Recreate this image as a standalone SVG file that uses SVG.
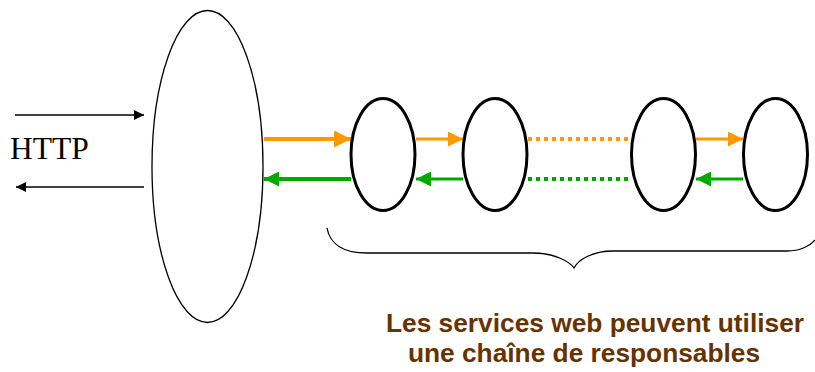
<svg xmlns="http://www.w3.org/2000/svg" width="815" height="372" viewBox="0 0 815 372">
  <style>
    .node { fill: #ffffff; stroke: #000000; }
    .server { stroke-width: 1.3; }
    .svc { stroke-width: 3; }
    .http { stroke: #000000; stroke-width: 1.3; fill: none; }
    .req { stroke: #ff9900; fill: none; }
    .resp { stroke: #00a800; fill: none; }
    .dots { stroke-width: 4; stroke-dasharray: 4 4; }
    .label { font-family: "Liberation Sans", Arial, sans-serif; font-weight: bold; font-size: 26.3px; fill: #663300; }
  </style>
  <defs>
    <marker id="arrBlack" viewBox="0 0 10 10" refX="10" refY="5" markerWidth="11" markerHeight="10" markerUnits="userSpaceOnUse" orient="auto">
      <path d="M0,0 L10,5 L0,10 z" fill="#000000"/>
    </marker>
    <marker id="arrOrange" viewBox="0 0 10 10" refX="10" refY="5" markerWidth="16" markerHeight="15" markerUnits="userSpaceOnUse" orient="auto">
      <path d="M0,0 L10,5 L0,10 z" fill="#ff9900"/>
    </marker>
    <marker id="arrOrangeBig" viewBox="0 0 10 10" refX="10" refY="5" markerWidth="19" markerHeight="17" markerUnits="userSpaceOnUse" orient="auto">
      <path d="M0,0 L10,5 L0,10 z" fill="#ff9900"/>
    </marker>
    <marker id="arrGreen" viewBox="0 0 10 10" refX="10" refY="5" markerWidth="16" markerHeight="15" markerUnits="userSpaceOnUse" orient="auto">
      <path d="M0,0 L10,5 L0,10 z" fill="#00a800"/>
    </marker>
  </defs>

  <g id="connectors">
    <!-- HTTP request / response -->
    <line class="http" x1="15" y1="115" x2="144" y2="115" marker-end="url(#arrBlack)"/>
    <line class="http" x1="144" y1="187" x2="16" y2="187" marker-end="url(#arrBlack)"/>
    <!-- requests along the chain -->
    <line class="req" stroke-width="4" x1="264" y1="139" x2="351" y2="139" marker-end="url(#arrOrangeBig)"/>
    <line class="req" stroke-width="3" x1="416" y1="139" x2="463" y2="139" marker-end="url(#arrOrange)"/>
    <line class="req dots" x1="528" y1="139" x2="630" y2="139"/>
    <line class="req" stroke-width="3" x1="696" y1="139" x2="743" y2="139" marker-end="url(#arrOrange)"/>
    <!-- responses back along the chain -->
    <line class="resp" stroke-width="4" x1="351" y1="179" x2="264" y2="179" marker-end="url(#arrGreen)"/>
    <line class="resp" stroke-width="3" x1="463" y1="179" x2="416" y2="179" marker-end="url(#arrGreen)"/>
    <line class="resp dots" x1="528" y1="179" x2="630" y2="179"/>
    <line class="resp" stroke-width="3" x1="743" y1="179" x2="696" y2="179" marker-end="url(#arrGreen)"/>
  </g>

  <text x="10" y="159" font-family="'Liberation Serif', 'Times New Roman', serif" font-size="31.5" fill="#000000">HTTP</text>

  <g id="server">
    <ellipse class="node server" cx="207.5" cy="166.5" rx="55.5" ry="156"/>
  </g>
  <g id="service1">
    <ellipse class="node svc" cx="383" cy="154.5" rx="32" ry="56"/>
  </g>
  <g id="service2">
    <ellipse class="node svc" cx="495" cy="154.5" rx="32" ry="56"/>
  </g>
  <g id="service3">
    <ellipse class="node svc" cx="663.5" cy="154.5" rx="32" ry="56"/>
  </g>
  <g id="service4">
    <ellipse class="node svc" cx="775.5" cy="154.5" rx="32" ry="56"/>
  </g>

  <!-- brace grouping the chain of services -->
  <path d="M327,228 C330,245 345,253 367,253 L533,253 C555,253 570,262 574,268 C578,260 592,251 613,251 L787,251 C800,251 810,246 815,240" fill="none" stroke="#000000" stroke-width="1.3"/>

  <text class="label" x="595" y="332" text-anchor="middle">Les services web peuvent utiliser</text>
  <text class="label" x="584" y="362" text-anchor="middle">une chaîne de responsables</text>
</svg>
